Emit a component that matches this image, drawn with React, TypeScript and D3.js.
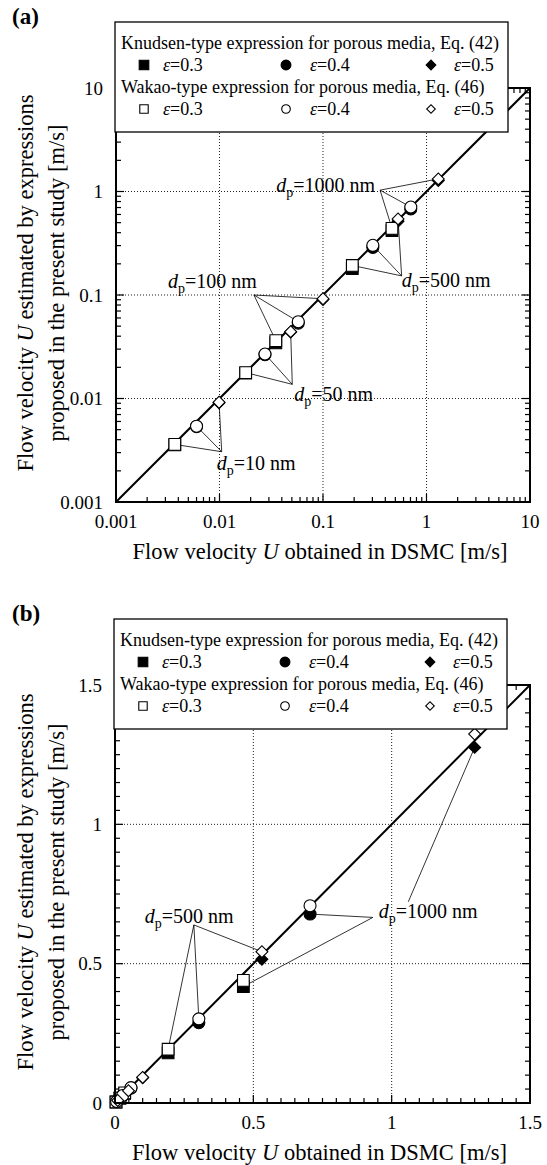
import React, { useEffect, useRef } from "react";
import * as d3 from "d3";

// particle diameters [nm] (order of the points in every series)
const diameters = [10, 50, 100, 500, 1000];
const porosities = [0.3, 0.4, 0.5];

// flow velocity obtained in DSMC [m/s]
const dsmc03 = [0.0037, 0.0179, 0.035, 0.192, 0.464];
const dsmc04 = [0.006, 0.0275, 0.0577, 0.303, 0.705];
const dsmc05 = [0.0099, 0.0487, 0.1, 0.531, 1.3];

// Knudsen-type expression, Eq. (42)
const knudsen03 = [0.00357, 0.0176, 0.0345, 0.18, 0.418];
const knudsen04 = [0.00535, 0.0265, 0.0535, 0.288, 0.678];
const knudsen05 = [0.0091, 0.0438, 0.0905, 0.516, 1.276];

// Wakao-type expression, Eq. (46)
const wakao03 = [0.0036, 0.0178, 0.0362, 0.193, 0.44];
const wakao04 = [0.0054, 0.0269, 0.0552, 0.302, 0.708];
const wakao05 = [0.0092, 0.0442, 0.092, 0.543, 1.324];

const legendTitles = [
  "Knudsen-type expression for porous media, Eq. (42)",
  "Wakao-type expression for porous media, Eq. (46)",
];

const logTicks = [0.001, 0.01, 0.1, 1, 10];
const logTickLabels = ["0.001", "0.01", "0.1", "1", "10"];
const linTicks = [0, 0.5, 1, 1.5];
const linTickLabels = ["0", "0.5", "1", "1.5"];

const FONT = "'Liberation Serif', 'Times New Roman', serif";

const shapes = [d3.symbolSquare, d3.symbolCircle, d3.symbolSquare];
const shapeSize = [137, 113, 70];
const shapeRot = [0, 0, 45];

function mark(g, i, cx, cy, filled, k = 1) {
  g.append("path")
    .attr("d", d3.symbol().type(shapes[i]).size(shapeSize[i] * k * k)())
    .attr("transform", `translate(${cx},${cy}) rotate(${shapeRot[i]})`)
    .attr("fill", filled ? "#000" : "#fff")
    .attr("stroke", "#000")
    .attr("stroke-width", 1.1);
}

function dpLabel(g, x, y, d, anchor) {
  const t = g.append("text")
    .attr("x", x).attr("y", y)
    .attr("text-anchor", anchor)
    .attr("font-size", 20);
  t.append("tspan").attr("font-style", "italic").text("d");
  t.append("tspan").attr("dy", 5).attr("font-size", 14).text("p");
  t.append("tspan").attr("dy", -5).text("=" + d + " nm");
}

function drawPanel(svg, p) {
  const dsmc = [dsmc03, dsmc04, dsmc05];
  const knudsen = [knudsen03, knudsen04, knudsen05];
  const wakao = [wakao03, wakao04, wakao05];

  const g = svg.append("g");
  const x = p.log
    ? d3.scaleLog().domain([0.001, 10]).range([p.left, p.right])
    : d3.scaleLinear().domain([0, 1.5]).range([p.left, p.right]);
  const y = p.log
    ? d3.scaleLog().domain([0.001, 10]).range([p.bottom, p.top])
    : d3.scaleLinear().domain([0, 1.5]).range([p.bottom, p.top]);

  // dotted grid
  const grid = p.log ? [0.01, 0.1, 1] : [0.5, 1];
  g.selectAll(".vg").data(grid).join("line")
    .attr("x1", d => x(d)).attr("x2", d => x(d))
    .attr("y1", p.top).attr("y2", p.bottom)
    .attr("stroke", "#222").attr("stroke-width", 1).attr("stroke-dasharray", "1,2");
  g.selectAll(".hg").data(grid).join("line")
    .attr("y1", d => y(d)).attr("y2", d => y(d))
    .attr("x1", p.left).attr("x2", p.right)
    .attr("stroke", "#222").attr("stroke-width", 1).attr("stroke-dasharray", "1,2");

  // inward ticks on all four sides
  const tickVals = p.log ? x.ticks() : d3.range(0, 1.5001, 0.05);
  const isMajor = v => p.log
    ? Math.abs(Math.log10(v) - Math.round(Math.log10(v))) < 1e-6
    : Math.abs(v / 0.5 - Math.round(v / 0.5)) < 1e-6;
  tickVals.forEach(v => {
    const len = isMajor(v) ? 8 : 5;
    const tk = (x1, y1, x2, y2) => g.append("line")
      .attr("x1", x1).attr("y1", y1).attr("x2", x2).attr("y2", y2)
      .attr("stroke", "#000").attr("stroke-width", 1.2);
    tk(x(v), p.bottom, x(v), p.bottom - len);
    tk(x(v), p.top, x(v), p.top + len);
    tk(p.left, y(v), p.left + len, y(v));
    tk(p.right, y(v), p.right - len, y(v));
  });

  // y = x line
  const dom = x.domain();
  g.append("line")
    .attr("x1", x(dom[0])).attr("y1", y(dom[0]))
    .attr("x2", x(dom[1])).attr("y2", y(dom[1]))
    .attr("stroke", "#000").attr("stroke-width", 2);

  // annotation leader lines
  p.notes.forEach(n => {
    porosities.forEach((e, i) => {
      const a = n.anchors[Math.min(i, n.anchors.length - 1)];
      const ty = n.toK && n.toK[i] ? knudsen[i][n.d] : wakao[i][n.d];
      g.append("line")
        .attr("x1", x(a[0])).attr("y1", y(a[1]))
        .attr("x2", x(dsmc[i][n.d])).attr("y2", y(ty))
        .attr("stroke", "#000").attr("stroke-width", 0.8);
    });
  });

  // markers: Knudsen (filled) under Wakao (open)
  porosities.forEach((e, i) => {
    diameters.forEach((dd, j) => mark(g, i, x(dsmc[i][j]), y(knudsen[i][j]), true));
  });
  porosities.forEach((e, i) => {
    diameters.forEach((dd, j) => mark(g, i, x(dsmc[i][j]), y(wakao[i][j]), false));
  });

  // frame
  g.append("rect")
    .attr("x", p.left).attr("y", p.top)
    .attr("width", p.right - p.left).attr("height", p.bottom - p.top)
    .attr("fill", "none").attr("stroke", "#000").attr("stroke-width", 2);

  // annotation labels
  p.notes.forEach(n => {
    const a = n.anchors[0];
    dpLabel(g, x(a[0]) + n.dx, y(a[1]) + n.dy, diameters[n.d], n.align);
  });

  // legend box
  const boxTop = p.top - 66;
  g.append("rect")
    .attr("x", p.left - 1).attr("y", boxTop)
    .attr("width", 393).attr("height", 110)
    .attr("fill", "#fff").attr("stroke", "#000").attr("stroke-width", 1.3);
  const symX = [28, 170, 315];
  const txtX = [47, 194, 338];
  legendTitles.forEach((title, r) => {
    const hy = p.top - 45 + r * 44;
    g.append("text").attr("x", p.left + 5).attr("y", hy).attr("dy", "0.35em")
      .attr("font-size", 18).text(title);
    porosities.forEach((e, i) => {
      const ry = hy + 22;
      mark(g, i, p.left + symX[i], ry, r === 0, r === 0 ? 0.82 : 0.72);
      const t = g.append("text").attr("x", p.left + txtX[i]).attr("y", ry).attr("dy", "0.35em")
        .attr("font-size", 18);
      t.append("tspan").attr("font-style", "italic").text("\u03b5");
      t.append("tspan").text("=" + e);
    });
  });

  // tick labels
  const tv = p.log ? logTicks : linTicks;
  const tl = p.log ? logTickLabels : linTickLabels;
  tv.forEach((v, i) => {
    g.append("text").attr("x", p.left - 13).attr("y", y(v)).attr("dy", "0.35em")
      .attr("text-anchor", "end").attr("font-size", 19).text(tl[i]);
    g.append("text").attr("x", x(v)).attr("y", p.bottom + 26)
      .attr("text-anchor", "middle").attr("font-size", 19).text(tl[i]);
  });

  // axis titles
  const xt = g.append("text").attr("x", (p.left + p.right) / 2 - 3).attr("y", p.bottom + 57)
    .attr("text-anchor", "middle").attr("font-size", 22.5);
  xt.append("tspan").text("Flow velocity ");
  xt.append("tspan").attr("font-style", "italic").text("U");
  xt.append("tspan").text(" obtained in DSMC [m/s]");

  const cy = (p.top + p.bottom) / 2 - 12;
  const y1 = g.append("text").attr("transform", `translate(25,${cy}) rotate(-90)`)
    .attr("text-anchor", "middle").attr("dy", "0.35em").attr("font-size", 22.5);
  y1.append("tspan").text("Flow velocity ");
  y1.append("tspan").attr("font-style", "italic").text("U");
  y1.append("tspan").text(" estimated by expressions");
  g.append("text").attr("transform", `translate(56,${cy}) rotate(-90)`)
    .attr("text-anchor", "middle").attr("dy", "0.35em").attr("font-size", 22.5)
    .text("proposed in the present study [m/s]");

  // panel tag
  g.append("text").attr("x", 12).attr("y", p.top - 64)
    .attr("font-size", 23).attr("font-weight", "bold").text(p.tag);
}

const panelA = {
  tag: "(a)", log: true, left: 116, right: 530, top: 88, bottom: 502,
  notes: [
    { d: 4, anchors: [[0.356, 1.03]], dx: -5, dy: 2, align: "end" },
    { d: 3, anchors: [[0.575, 0.153]], dx: 0, dy: 11, align: "start" },
    { d: 2, anchors: [[0.0215, 0.1]], dx: 3, dy: -7, align: "end" },
    { d: 1, anchors: [[0.0505, 0.0137]], dx: 2, dy: 17, align: "start" },
    { d: 0, anchors: [[0.0105, 0.00306]], dx: -5, dy: 18, align: "start" },
  ],
};

const panelB = {
  tag: "(b)", log: false, left: 115, right: 530, top: 685, bottom: 1103,
  notes: [
    { d: 3, anchors: [[0.285, 0.639]], dx: -49, dy: -2, align: "start" },
    { d: 4, anchors: [[0.932, 0.666], [0.932, 0.666], [1.06, 0.722]], dx: 6, dy: 1, align: "start", toK: [true, true, true] },
  ],
};

export default function App() {
  const ref = useRef(null);

  useEffect(() => {
    const svg = d3.select(ref.current);
    svg.selectAll("*").remove();
    drawPanel(svg, panelA);
    drawPanel(svg, panelB);
  }, []);

  return (
    <svg
      ref={ref}
      width={547}
      height={1165}
      fontFamily={FONT}
      style={{ position: "absolute", left: 0, top: 0, background: "#fff" }}
    />
  );
}
